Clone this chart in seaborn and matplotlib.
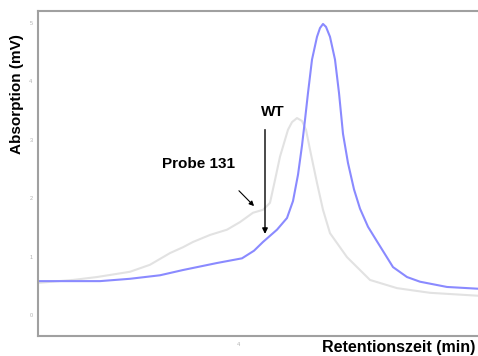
import matplotlib
matplotlib.use("Agg")
import matplotlib.pyplot as plt
import seaborn as sns
import pandas as pd

# WT (blue) trace
wt_x = [3.0, 3.16, 3.31, 3.46, 3.61, 3.725, 3.895, 4.02, 4.08, 4.125, 4.195, 4.245, 4.275, 4.30,
        4.32, 4.335, 4.35, 4.37, 4.395, 4.41, 4.425, 4.44, 4.46, 4.485, 4.505, 4.525,
        4.55, 4.58, 4.61, 4.65, 4.695, 4.775, 4.845, 4.91, 5.045, 5.2]
wt_y = [0.58, 0.58, 0.58, 0.62, 0.68, 0.77, 0.89, 0.97, 1.10, 1.25, 1.46, 1.66, 1.95, 2.40,
        2.90, 3.34, 3.80, 4.37, 4.76, 4.91, 4.98, 4.93, 4.76, 4.37, 3.80, 3.10,
        2.60, 2.15, 1.82, 1.51, 1.26, 0.82, 0.65, 0.57, 0.48, 0.45]

# Probe 131 (gray) trace
pr_x = [3.0, 3.175, 3.295, 3.46, 3.56, 3.66, 3.725, 3.775, 3.86, 3.945, 4.01, 4.075, 4.125,
        4.16, 4.185, 4.21, 4.25, 4.27, 4.295, 4.32, 4.34, 4.36, 4.395, 4.425, 4.46,
        4.545, 4.66, 4.795, 4.96, 5.2]
pr_y = [0.55, 0.60, 0.65, 0.74, 0.86, 1.06, 1.16, 1.25, 1.37, 1.46, 1.59, 1.75, 1.80,
        1.92, 2.31, 2.71, 3.17, 3.30, 3.37, 3.32, 3.17, 2.83, 2.26, 1.80, 1.40,
        0.99, 0.60, 0.46, 0.38, 0.33]

y_ticks = [0, 1, 2, 3, 4, 5]
x_ticks = [4]

df = pd.concat([
    pd.DataFrame({"t": pr_x, "a": pr_y, "s": "Probe 131"}),
    pd.DataFrame({"t": wt_x, "a": wt_y, "s": "WT"}),
])

sns.set_style("white")
plt.rcParams["font.family"] = ["Liberation Sans", "DejaVu Sans"]

fig = plt.figure(figsize=(4.78, 3.56), dpi=100)
ax = fig.add_axes([0.0795, 0.056, 0.9205, 0.9145])
sns.lineplot(data=df, x="t", y="a", hue="s", palette={"Probe 131": "#e2e2e2", "WT": "#8a8aff"},
             linewidth=1.5, legend=False, ax=ax, sort=False)
ax.set_xlim(3.0, 5.2)
ax.set_ylim(-0.36, 5.21)
ax.set_yticks(y_ticks)
ax.set_xticks(x_ticks)
ax.tick_params(axis="both", labelsize=4, colors="#b0b0b0", length=2, width=0.6, pad=2)
for side in ["left", "top", "bottom"]:
    ax.spines[side].set_color("#a0a0a0")
    ax.spines[side].set_linewidth(1.5)
ax.spines["right"].set_visible(False)
ax.set_xlabel("")
ax.set_ylabel("")

fig.text(0.834, 0.025, "Retentionszeit (min)", fontsize=11.5, fontweight="bold",
         color="black", ha="center", va="center")
fig.text(0.036, 0.737, "Absorption (mV)", fontsize=11, fontweight="bold",
         color="black", ha="center", va="center", rotation=90)

ax.text(4.175, 3.48, "WT", fontsize=11, fontweight="bold", color="black", ha="center", va="center")
ax.text(3.80, 2.59, "Probe 131", fontsize=11, fontweight="bold", color="black", ha="center", va="center")
ax.annotate("", xy=(4.135, 1.34), xytext=(4.135, 3.22),
            arrowprops=dict(arrowstyle="-|>", color="black", lw=1, mutation_scale=8))
ax.annotate("", xy=(4.09, 1.83), xytext=(3.995, 2.16),
            arrowprops=dict(arrowstyle="-|>", color="black", lw=0.8, mutation_scale=7))

fig.savefig("out.png", dpi=100)
